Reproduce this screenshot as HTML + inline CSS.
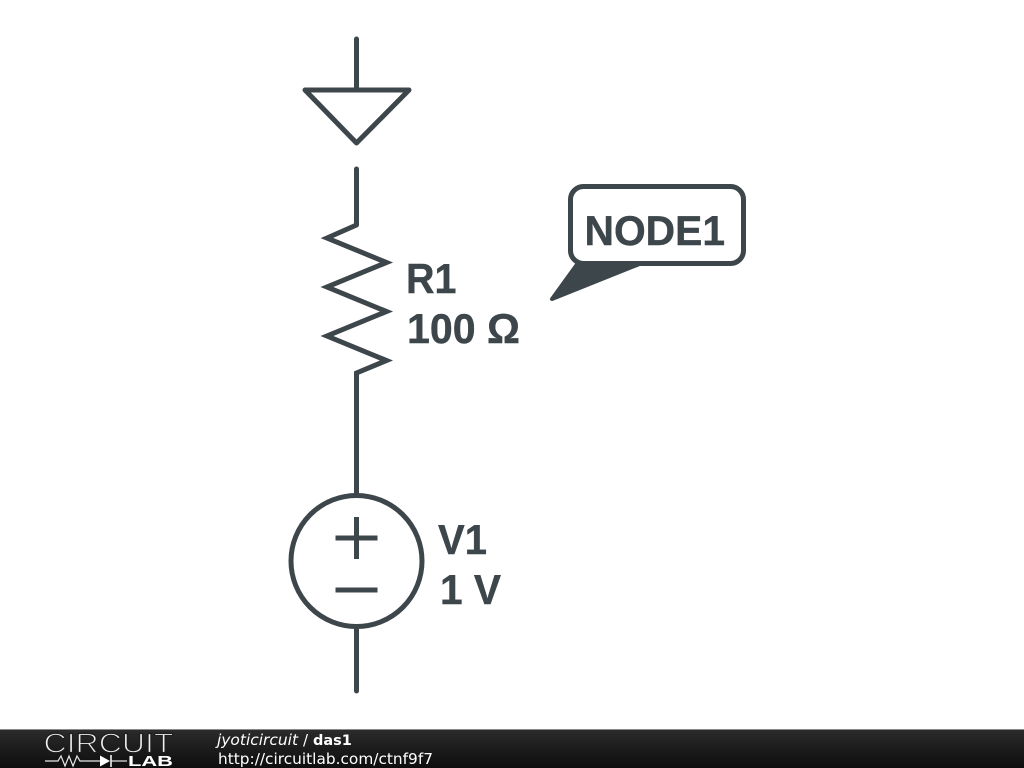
<!DOCTYPE html>
<html>
<head>
<meta charset="utf-8">
<style>
html,body{margin:0;padding:0;background:#fff;width:1024px;height:768px;overflow:hidden}
svg{display:block}
</style>
</head>
<body>
<svg width="1024" height="768" viewBox="0 0 1024 768" xmlns="http://www.w3.org/2000/svg">
<defs>
<linearGradient id="bar" x1="0" y1="0" x2="0" y2="1">
<stop offset="0" stop-color="#2c2c2c"/>
<stop offset="0.5" stop-color="#1c1c1c"/>
<stop offset="1" stop-color="#0e0e0e"/>
</linearGradient>
</defs>
<rect width="1024" height="768" fill="#fff"/>
<g fill="none" stroke="#3d464b" stroke-width="5" stroke-linecap="round" stroke-linejoin="round">
<path d="M356.5 39V90"/>
<path d="M305 90H409L356.5 143Z"/>
<path d="M356.500 627V691"/>
<path d="M356.500 169V225"/>
</g>
<path d="M356.500 225L327 238L386.500 262.500L327 287L386.500 311.500L327 336L386.500 360.500L356.500 373V495" fill="none" stroke="#3d464b" stroke-width="5" stroke-linejoin="miter" stroke-miterlimit="8"/>
<circle cx="356.500" cy="561" r="65.500" fill="none" stroke="#3d464b" stroke-width="5"/>
<path d="M335.500 538H377.500M356.500 517V559M335.500 590H377.500" fill="none" stroke="#3d464b" stroke-width="5"/>
<path d="M578 263L552 299L642 263Z" fill="#3d464b" stroke="#3d464b" stroke-width="4" stroke-linejoin="round"/>
<rect x="570.500" y="186.500" width="173" height="77" rx="13" fill="#fff" stroke="#3d464b" stroke-width="5"/>
<g font-family="'Liberation Sans',Arial,sans-serif" font-weight="700" font-size="42" fill="#3d464b" stroke="#3d464b" stroke-width="0.4">
<text x="584.500" y="245" textLength="140.500" lengthAdjust="spacingAndGlyphs">NODE1</text>
<text x="406" y="293" textLength="50.500" lengthAdjust="spacingAndGlyphs">R1</text>
<text x="407" y="343" textLength="113" lengthAdjust="spacingAndGlyphs">100 Ω</text>
<text x="438" y="554" textLength="49" lengthAdjust="spacingAndGlyphs">V1</text>
<text x="440" y="604" textLength="61" lengthAdjust="spacingAndGlyphs">1 V</text>
</g>
<rect x="0" y="729" width="1024" height="39" fill="url(#bar)"/>
<rect x="0" y="729" width="1024" height="1" fill="#8a8a8a"/>
<g fill="#fff">
<text x="43.500" y="752.500" font-family="'Liberation Sans',sans-serif" font-size="28" textLength="130" lengthAdjust="spacingAndGlyphs" fill="#f0f0f0" stroke="#1f1f1f" stroke-width="1.200">CIRCUIT</text>
<text x="128" y="766" font-family="'Liberation Sans',sans-serif" font-size="15" font-weight="700" textLength="45" lengthAdjust="spacingAndGlyphs">LAB</text>
<path d="M45 761H58L61 756L65 766L69 756L73 766L77 756L80 761H100" fill="none" stroke="#e8e8e8" stroke-width="1.200"/>
<path d="M100 755.500L110 761L100 766.500Z"/>
<path d="M111 755V767" stroke="#fff" stroke-width="1.500"/>
<path d="M111 761H127" stroke="#e8e8e8" stroke-width="1.200"/>
<text x="217" y="745" font-family="'DejaVu Sans',sans-serif" font-size="15" font-style="italic" textLength="81" lengthAdjust="spacingAndGlyphs">jyoticircuit</text>
<text x="303" y="745" font-family="'DejaVu Sans',sans-serif" font-size="15">/</text>
<text x="313" y="745" font-family="'DejaVu Sans',sans-serif" font-size="14.500" font-weight="700">das1</text>
<text x="218" y="764" font-family="'DejaVu Sans',sans-serif" font-size="15" textLength="215" lengthAdjust="spacingAndGlyphs">http://circuitlab.com/ctnf9f7</text>
</g>
</svg>
</body>
</html>
